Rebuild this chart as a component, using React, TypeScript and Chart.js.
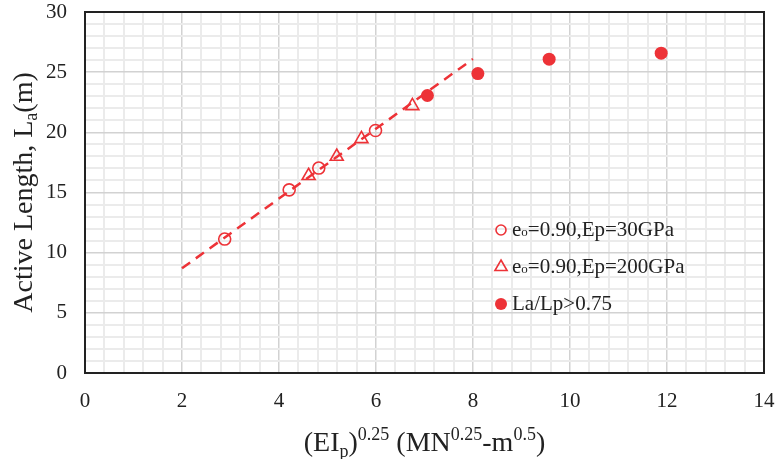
import React, { useEffect, useRef } from "react";
import { Chart, registerables } from "chart.js";

Chart.register(...registerables);

const RED = "#ED3237";
const FONT = "'Liberation Serif', 'Times New Roman', serif";

// Series values
const circleX = [2.88, 4.21, 4.82, 5.99];
const circleY = [11.13, 15.22, 17.03, 20.15];
const triangleX = [4.61, 5.19, 5.7, 6.75];
const triangleY = [16.39, 17.99, 19.46, 22.2];
const filledX = [7.06, 8.1, 9.57, 11.88];
const filledY = [23.06, 24.88, 26.08, 26.58];
const trendX = [2, 8];
const trendY = [8.7, 26.1];

// Axis settings
const xMin = 0, xMax = 14, xMajor = 2, xMinor = 0.4;
const yMin = 0, yMax = 30, yMajor = 5, yMinor = 1;

const legendLabels = [
  { main: "e", sub: "o", rest: "=0.90,Ep=30GPa", style: "circle" },
  { main: "e", sub: "o", rest: "=0.90,Ep=200GPa", style: "triangle" },
  { main: "La/Lp>0.75", sub: "", rest: "", style: "filled" },
];

const toPts = (xs: number[], ys: number[]) => xs.map((x, i) => ({ x, y: ys[i] }));
const isMajor = (v: number, step: number) => Math.abs(v / step - Math.round(v / step)) < 1e-6;

type Part = { t: string; size: number; dy: number };

function drawParts(ctx: CanvasRenderingContext2D, parts: Part[], cx: number, baseY: number) {
  let total = 0;
  for (const p of parts) {
    ctx.font = `${p.size}px ${FONT}`;
    total += ctx.measureText(p.t).width;
  }
  let x = cx - total / 2;
  for (const p of parts) {
    ctx.font = `${p.size}px ${FONT}`;
    ctx.fillText(p.t, x, baseY + p.dy);
    x += ctx.measureText(p.t).width;
  }
}

const overlayPlugin = {
  id: "overlay",
  beforeDatasetsDraw(chart: any) {
    const { ctx, chartArea } = chart;
    ctx.save();
    ctx.strokeStyle = "#222";
    ctx.lineWidth = 2;
    ctx.strokeRect(chartArea.left, chartArea.top, chartArea.right - chartArea.left, chartArea.bottom - chartArea.top);
    ctx.restore();
  },
  afterDraw(chart: any) {
    const { ctx, chartArea } = chart;
    ctx.save();
    ctx.fillStyle = "#222";
    ctx.textBaseline = "alphabetic";
    ctx.textAlign = "left";
    // X axis title
    const cx = (chartArea.left + chartArea.right) / 2;
    drawParts(
      ctx,
      [
        { t: "(EI", size: 28, dy: 0 },
        { t: "p", size: 18, dy: 6 },
        { t: ")", size: 28, dy: 0 },
        { t: "0.25", size: 18, dy: -11 },
        { t: " (MN", size: 28, dy: 0 },
        { t: "0.25", size: 18, dy: -11 },
        { t: "-m", size: 28, dy: 0 },
        { t: "0.5", size: 18, dy: -11 },
        { t: ")", size: 28, dy: 0 },
      ],
      cx,
      451
    );
    // Y axis title
    const cy = (chartArea.top + chartArea.bottom) / 2;
    ctx.save();
    ctx.translate(32, cy);
    ctx.rotate(-Math.PI / 2);
    drawParts(
      ctx,
      [
        { t: "Active Length, L", size: 28, dy: 0 },
        { t: "a", size: 18, dy: 5 },
        { t: "(m)", size: 28, dy: 0 },
      ],
      0,
      0
    );
    ctx.restore();

    // Legend
    const rowsY = [230, 267, 304];
    const mx = 501;
    const tx = 512;
    legendLabels.forEach((l, i) => {
      const y = rowsY[i];
      ctx.strokeStyle = RED;
      ctx.fillStyle = RED;
      ctx.lineWidth = 1.6;
      if (l.style === "circle") {
        ctx.beginPath();
        ctx.arc(mx, y, 5, 0, Math.PI * 2);
        ctx.stroke();
      } else if (l.style === "triangle") {
        const r = 7;
        ctx.beginPath();
        ctx.moveTo(mx, y - r);
        ctx.lineTo(mx + r * 0.866, y + r * 0.5);
        ctx.lineTo(mx - r * 0.866, y + r * 0.5);
        ctx.closePath();
        ctx.stroke();
      } else {
        ctx.beginPath();
        ctx.arc(mx, y, 6, 0, Math.PI * 2);
        ctx.fill();
      }
      ctx.fillStyle = "#222";
      ctx.textBaseline = "middle";
      let x = tx;
      ctx.font = `21px ${FONT}`;
      ctx.fillText(l.main, x, y);
      x += ctx.measureText(l.main).width;
      if (l.sub) {
        ctx.font = `13px ${FONT}`;
        ctx.fillText(l.sub, x, y + 3);
        x += ctx.measureText(l.sub).width;
      }
      if (l.rest) {
        ctx.font = `21px ${FONT}`;
        ctx.fillText(l.rest, x, y);
      }
    });
    ctx.restore();
  },
};

export default function App() {
  const ref = useRef<HTMLCanvasElement | null>(null);
  useEffect(() => {
    document.body.style.margin = "0";
    const canvas = ref.current!;
    const chart = new Chart(canvas, {
      type: "scatter",
      data: {
        datasets: [
          {
            label: "e0=0.90,Ep=30GPa",
            data: toPts(circleX, circleY),
            pointStyle: "circle",
            pointRadius: 6,
            borderColor: RED,
            backgroundColor: "rgba(0,0,0,0)",
            borderWidth: 1.6,
          },
          {
            label: "e0=0.90,Ep=200GPa",
            data: toPts(triangleX, triangleY),
            pointStyle: "triangle",
            pointRadius: 7.5,
            borderColor: RED,
            backgroundColor: "rgba(0,0,0,0)",
            borderWidth: 1.6,
          },
          {
            label: "La/Lp>0.75",
            data: toPts(filledX, filledY),
            pointStyle: "circle",
            pointRadius: 6.5,
            borderColor: RED,
            backgroundColor: RED,
            borderWidth: 0,
          },
          {
            label: "trend",
            data: toPts(trendX, trendY),
            showLine: true,
            pointRadius: 0,
            borderColor: RED,
            borderWidth: 2.5,
            borderDash: [10, 7],
            fill: false,
          },
        ],
      },
      plugins: [overlayPlugin],
      options: {
        animation: false,
        responsive: false,
        events: [],
        layout: { padding: { top: 12, right: 12, left: 0, bottom: 0 } },
        plugins: { legend: { display: false }, tooltip: { enabled: false } },
        scales: {
          x: {
            type: "linear",
            min: xMin,
            max: xMax,
            border: { display: false },
            grid: {
              drawTicks: false,
              color: (c: any) => (isMajor(c.tick.value, xMajor) ? "#d2d2d2" : "#ebebeb"),
              lineWidth: (c: any) => (isMajor(c.tick.value, xMajor) ? 1.5 : 2),
            },
            ticks: {
              stepSize: xMinor,
              autoSkip: false,
              maxRotation: 0,
              padding: 16,
              color: "#222",
              font: { family: FONT, size: 21 },
              callback: (v: any) => (isMajor(Number(v), xMajor) ? String(Math.round(Number(v))) : ""),
            },
            afterFit: (s: any) => {
              s.height = 86;
              s.paddingLeft = 0;
              s.paddingRight = 0;
            },
          },
          y: {
            type: "linear",
            min: yMin,
            max: yMax,
            border: { display: false },
            grid: {
              drawTicks: false,
              color: (c: any) => (isMajor(c.tick.value, yMajor) ? "#d2d2d2" : "#ebebeb"),
              lineWidth: (c: any) => (isMajor(c.tick.value, yMajor) ? 1.5 : 2),
            },
            ticks: {
              stepSize: yMinor,
              autoSkip: false,
              padding: 18,
              color: "#222",
              font: { family: FONT, size: 21 },
              callback: (v: any) => (isMajor(Number(v), yMajor) ? String(Math.round(Number(v))) : ""),
            },
            afterFit: (s: any) => {
              s.width = 85;
              s.paddingTop = 0;
              s.paddingBottom = 0;
            },
          },
        },
      },
    } as any);
    return () => chart.destroy();
  }, []);
  return (
    <div style={{ position: "fixed", left: 0, top: 0, width: 776, height: 459, background: "#fff" }}>
      <canvas ref={ref} width={776} height={459} style={{ width: 776, height: 459, display: "block" }} />
    </div>
  );
}
